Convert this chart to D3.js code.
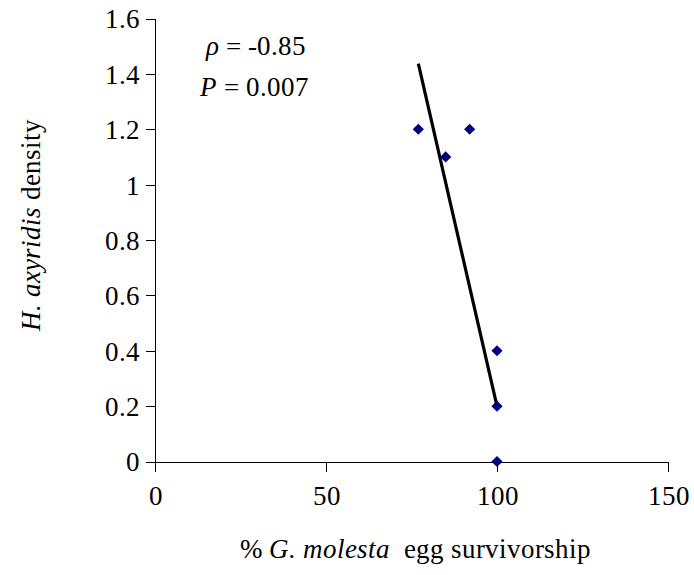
<!DOCTYPE html>
<html>
<head>
<meta charset="utf-8">
<script src="https://cdn.jsdelivr.net/npm/d3@7"></script>
<style>
@font-face { font-family: "ChartSerif"; font-style: normal; src: local("Liberation Serif"), local("LiberationSerif"), local("Times New Roman"); }
@font-face { font-family: "ChartSerif"; font-style: italic; src: local("Liberation Serif Italic"), local("LiberationSerif-Italic"), local("Times New Roman Italic"); }
body { margin: 0; }
</style>
</head>
<body>
<svg width="694" height="575" font-family="ChartSerif, Liberation Serif, serif" font-size="27"></svg>
<script>
// data
var survivorship = [77, 85, 92, 100, 100, 100]
var density = [1.2, 1.1, 1.2, 0.4, 0.2, 0]
var fitX = [77, 100]
var fitY = [1.437, 0.2]
var xTicks = [0, 50, 100, 150]
var yTicks = [0, 0.2, 0.4, 0.6, 0.8, 1, 1.2, 1.4, 1.6]

var svg = d3.select("svg")

var x = d3.scaleLinear().domain([0, 150]).range([155, 668])
var y = d3.scaleLinear().domain([0, 1.6]).range([461.5, 18.5])

function styleAxis(g) {
	g.attr("font-family", null).attr("font-size", null)
	g.select(".domain").attr("stroke", "#000").attr("shape-rendering", "crispEdges")
	g.selectAll(".tick line").attr("stroke", "#000").attr("shape-rendering", "crispEdges")
	g.selectAll("text").attr("fill", "#000")
}

var xAxis = svg.append("g")
	.attr("transform", "translate(0," + y(0) + ")")
	.call(d3.axisBottom(x).tickValues(xTicks).tickSize(10).tickSizeOuter(0).tickPadding(12).tickFormat(d3.format("d")))
	.call(styleAxis)
xAxis.selectAll("text").attr("dy", "0.78em")

var yAxis = svg.append("g")
	.attr("transform", "translate(" + x(0) + ",0)")
	.call(d3.axisLeft(y).tickValues(yTicks).tickSize(9).tickSizeOuter(0).tickPadding(6).tickFormat(d => d3.format("")(d)))
	.call(styleAxis)
yAxis.selectAll("text").attr("dy", "0.35em")

// trend line
var pts = fitX.map((v, i) => [x(v), y(fitY[i])])
svg.append("path")
	.attr("d", d3.line()(pts))
	.attr("fill", "none")
	.attr("stroke", "#000")
	.attr("stroke-width", 3.2)

// points
svg.append("g").selectAll("path")
	.data(survivorship.map((v, i) => [v, density[i]]))
	.enter().append("path")
	.attr("transform", d => "translate(" + x(d[0]) + "," + y(d[1]) + ")")
	.attr("d", d3.symbol().type(d3.symbolDiamond2).size(80))
	.attr("fill", "#000080")

// stats
var t1 = svg.append("text").attr("x", 206).attr("y", 55)
t1.append("tspan").attr("font-style", "italic").text("ρ")
t1.append("tspan").text(" = -0.85")
var t2 = svg.append("text").attr("x", 200).attr("y", 96)
t2.append("tspan").attr("font-style", "italic").text("P")
t2.append("tspan").text(" = 0.007")

// axis titles
var xl = svg.append("text").attr("x", 415).attr("y", 558)
	.attr("text-anchor", "middle").style("white-space", "pre")
xl.append("tspan").text("% ")
xl.append("tspan").attr("font-style", "italic").text("G. molesta")
xl.append("tspan").text("  egg survivorship")

var yl = svg.append("text")
	.attr("transform", "translate(40,225) rotate(-90)")
	.attr("text-anchor", "middle")
yl.append("tspan").attr("font-style", "italic").text("H. axyridis")
yl.append("tspan").text(" density")
</script>
</body>
</html>
